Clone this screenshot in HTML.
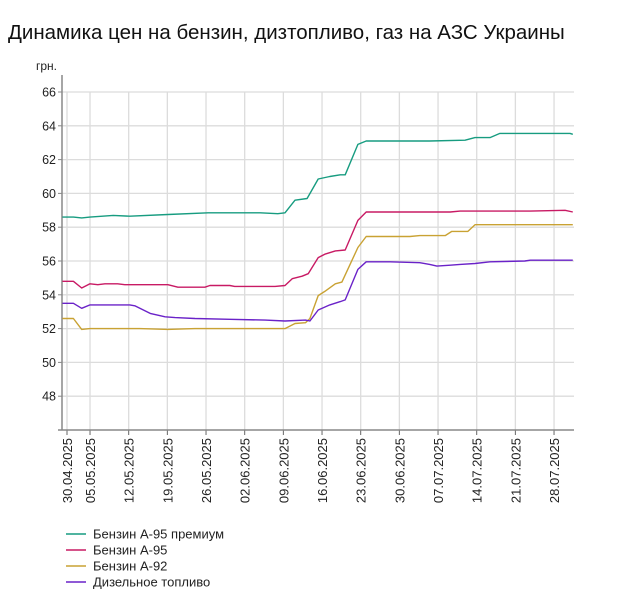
<!DOCTYPE html>
<html><head><meta charset="utf-8"><style>
body{margin:0;background:#fff;width:625px;height:610px;overflow:hidden;font-family:"Liberation Sans","DejaVu Sans",sans-serif}
</style></head><body>
<svg width="625" height="610" xmlns="http://www.w3.org/2000/svg" font-family="Liberation Sans, DejaVu Sans, sans-serif">
<text x="8" y="39" font-size="20.5" fill="#111">Динамика цен на бензин, дизтопливо, газ на АЗС Украины</text>
<text x="36" y="70" font-size="12" fill="#222">грн.</text>
<g id="grid"></g><g id="axes"></g><g id="series"></g><g id="legend"></g>
</svg>
<script>
const yTicks=[48,50,52,54,56,58,60,62,64,66];
const tickDays=[0,5,12,19,26,33,40,47,54,61,68,75,82,89];
const tickLabels=["30.04.2025","05.05.2025","12.05.2025","19.05.2025","26.05.2025","02.06.2025","09.06.2025","16.06.2025","23.06.2025","30.06.2025","07.07.2025","14.07.2025","21.07.2025","28.07.2025"];
const seriesNames=["Бензин А-95 премиум","Бензин А-95","Бензин А-92","Дизельное топливо"];
const seriesColors=["#179c80","#c81a64","#c9a233","#6a22c8"];
const premDays=[0,2,3.5,5,9.2,12.2,19.1,26.4,35.8,39,40.3,42.1,44.3,46.3,48.4,50.3,51.2,53.5,55,66.5,72.9,74.7,77.4,79.2,91.9,92.4];
const premVals=[58.6,58.6,58.55,58.6,58.7,58.65,58.75,58.85,58.85,58.8,58.85,59.6,59.7,60.85,61.0,61.1,61.1,62.9,63.1,63.1,63.15,63.3,63.3,63.55,63.55,63.5];
const a95Days=[0,2,3.5,5,6.4,7.7,10,11.3,19.1,20.9,25.8,26.7,30.3,31.2,38.5,40.3,41.6,43.4,44.5,46.3,47.5,49.4,51.2,53.5,55,70.2,72,84.7,91,92.4];
const a95Vals=[54.8,54.8,54.4,54.65,54.6,54.65,54.65,54.6,54.6,54.45,54.45,54.55,54.55,54.5,54.5,54.55,54.95,55.1,55.25,56.2,56.4,56.6,56.65,58.4,58.9,58.9,58.95,58.95,59.0,58.9];
const a92Days=[0,2,3.5,5,14,19.1,24,40.3,42.1,44,44.8,46.3,47.5,49.4,50.6,53.5,55,62.9,64.7,69.3,70.5,73.4,74.7,92.4];
const a92Vals=[52.6,52.6,51.95,52.0,52.0,51.95,52.0,52.0,52.3,52.35,52.6,53.95,54.2,54.65,54.75,56.8,57.45,57.45,57.5,57.5,57.75,57.75,58.15,58.15];
const dieselDays=[0,2,3.5,5,12.2,13.1,15.9,18.6,20.4,24,30.3,36.7,40.3,44,44.8,46.3,48.4,50.3,51.2,53.5,55,59.3,64.7,66.5,67.8,70.2,72,74.7,77.4,83.7,84.7,92.4];
const dieselVals=[53.5,53.5,53.2,53.4,53.4,53.35,52.9,52.7,52.65,52.6,52.55,52.5,52.45,52.5,52.45,53.1,53.4,53.6,53.7,55.5,55.95,55.95,55.9,55.8,55.7,55.75,55.8,55.85,55.95,56.0,56.05,56.05];

const NS="http://www.w3.org/2000/svg";
const X0=62,X1=574,Y0=75,Y1=430;
function xs(d){return 62.4+d*5.524;}
function ys(v){return 92+(66-v)*16.9;}
function mk(tag,attrs,parent){const e=document.createElementNS(NS,tag);for(const k in attrs)e.setAttribute(k,attrs[k]);document.getElementById(parent).appendChild(e);return e;}
yTicks.forEach(v=>{
  const l=mk('line',{x1:X0,x2:X1,y1:ys(v),y2:ys(v),stroke:'#dcdcdc','stroke-width':1.3},'grid');
  
  
  const t=mk('text',{x:X0-6,y:ys(v)+4.5,'text-anchor':'end','font-size':12.5,fill:'#222'},'axes');
  t.textContent=v;
  
  
  const tk=mk('line',{x1:X0-4,x2:X0,y1:ys(v),y2:ys(v),stroke:'#888'},'axes');
  
  
});
tickDays.forEach((d,i)=>{
  const x=(i===0?67:xs(d));
  const g=mk('line',{x1:x,x2:x,y1:ys(66),y2:Y1,stroke:'#dcdcdc','stroke-width':1.3},'grid');
  
  
  const tk=mk('line',{x1:x,x2:x,y1:Y1,y2:Y1+5,stroke:'#666'},'axes');
  
  
  const t=mk('text',{x:0,y:0,'text-anchor':'end','font-size':13,fill:'#222',transform:`translate(${x+5},438) rotate(-90)`},'axes');
  t.textContent=tickLabels[i];
  
  
});
const ya=mk('line',{x1:X0,x2:X0,y1:Y0,y2:Y1,stroke:'#888','stroke-width':1.5},'axes');


const xa=mk('line',{x1:X0-4,x2:X1,y1:Y1,y2:Y1,stroke:'#888','stroke-width':1.5},'axes');


const allDays=[premDays,a95Days,a92Days,dieselDays],allVals=[premVals,a95Vals,a92Vals,dieselVals];
const sNames=['series-a95-premium','series-a95','series-a92','series-diesel'];
allDays.forEach((ds,s)=>{
  const pts=ds.map((d,i)=>xs(d).toFixed(1)+','+ys(allVals[s][i]).toFixed(1)).join(' ');
  const p=mk('polyline',{points:pts,fill:'none',stroke:seriesColors[s],'stroke-width':1.4,'stroke-linejoin':'round'},'series');
  
  
});
seriesNames.forEach((n,i)=>{
  const y=534+i*16;
  const l=mk('line',{x1:66,x2:86,y1:y,y2:y,stroke:seriesColors[i],'stroke-width':1.5},'legend');
  
  
  const t=mk('text',{x:93,y:y+4.5,'font-size':13,fill:'#222'},'legend');
  t.textContent=n;
  
  
});
</script>
</body></html>
